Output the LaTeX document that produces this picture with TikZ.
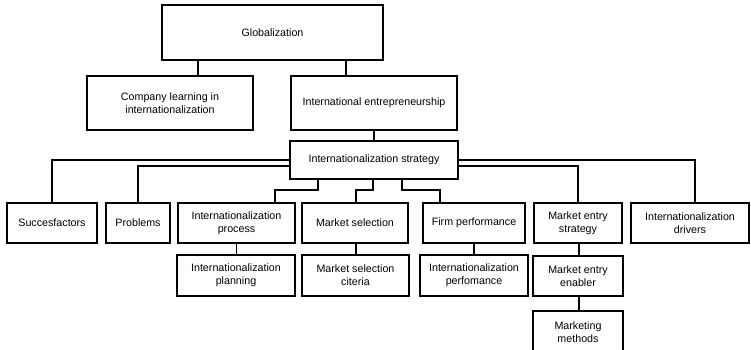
\documentclass[tikz,border=0pt]{standalone}
\usepackage{fontspec}
\setmainfont{Liberation Sans}
\begin{document}
\begin{tikzpicture}[x=1pt,y=-1pt,
  box/.style={draw=black, line width=2.5pt, fill=white, align=center, inner sep=0pt,
    font=\fontsize{10.7}{13}\selectfont},
  link/.style={draw=black, line width=2.6pt},
  thinlink/.style={draw=black, line width=1.2pt}]
\useasboundingbox (0,0) rectangle (751,350);

% top levels
\node[box, minimum width=221pt, minimum height=55pt] (glob) at (272.5,32.5) {Globalization};
\node[box, minimum width=166pt, minimum height=54pt] (learn) at (170,103) {Company learning in\\internationalization};
\node[box, minimum width=166pt, minimum height=54pt] (entre) at (374,103) {International entrepreneurship};
\node[box, minimum width=168pt, minimum height=38pt] (strat) at (374,160) {Internationalization strategy};

% row 1
\node[box, minimum width=90pt, minimum height=40pt] (succ) at (52,223) {Succesfactors};
\node[box, minimum width=64pt, minimum height=40pt] (prob) at (138,223) {Problems};
\node[box, minimum width=117pt, minimum height=40pt] (process) at (236.5,223) {Internationalization\\process};
\node[box, minimum width=106pt, minimum height=40pt] (mksel) at (355,223) {Market selection};
\node[box, minimum width=102pt, minimum height=40pt] (firm) at (474,223) {Firm performance};
\node[box, minimum width=88pt, minimum height=40pt] (entry) at (578,223) {Market entry\\strategy};
\node[box, minimum width=118pt, minimum height=40pt] (drivers) at (690,223) {Internationalization\\drivers};

% row 2
\node[box, minimum width=118pt, minimum height=41pt] (plan) at (236,275.5) {Internationalization\\planning};
\node[box, minimum width=107pt, minimum height=41pt] (crit) at (355.5,275.5) {Market selection\\citeria};
\node[box, minimum width=108pt, minimum height=41pt] (perf) at (474,275.5) {Internationalization\\perfomance};
\node[box, minimum width=90pt, minimum height=40pt] (enab) at (578,276) {Market entry\\enabler};
\begin{scope}
\clip (0,0) rectangle (751,350);
\node[box, minimum width=90pt, minimum height=52pt] (meth) at (578,337) {};
\node[align=center, inner sep=0pt, font=\fontsize{10.7}{13}\selectfont] (methtext) at (578,332) {Marketing\\methods};
\end{scope}

% helper coordinates
\coordinate (xa) at (198,0);
\coordinate (xb) at (346,0);
\coordinate (ya) at (0,160);
\coordinate (yb) at (0,166);
\coordinate (k1) at (318,190);
\coordinate (k2) at (373,190);
\coordinate (k3) at (402,190);
\coordinate (p1) at (275,0);
\coordinate (p2) at (356,0);
\coordinate (p3) at (440,0);
\coordinate (xd) at (695,0);
\coordinate (xe) at (579,0);

% connectors
\draw[link] (glob.south -| xa) -- (learn.north -| xa);
\draw[link] (glob.south -| xb) -- (entre.north -| xb);
\draw[link] (entre.south) -- (strat.north);
\draw[link] (strat.west |- ya) -| (succ.north);
\draw[link] (strat.west |- yb) -| (prob.north);
\draw[link] (strat.east |- ya) -| (drivers.north -| xd);
\draw[link] (strat.east |- yb) -| (entry.north);
\draw[link] (strat.south -| k1) -- (k1) -| (process.north -| p1);
\draw[link] (strat.south -| k2) -- (k2) -| (mksel.north -| p2);
\draw[link] (strat.south -| k3) -- (k3) -| (firm.north -| p3);

\draw[thinlink] (process.south) -- (plan.north -| process.south);
\draw[thinlink] (mksel.south -| p2) -- (crit.north -| p2);
\draw[thinlink] (firm.south) -- (perf.north);
\draw[thinlink] (entry.south -| xe) -- (enab.north -| xe);
\draw[thinlink] (enab.south -| xe) -- (meth.north -| xe);
\end{tikzpicture}
\end{document}
